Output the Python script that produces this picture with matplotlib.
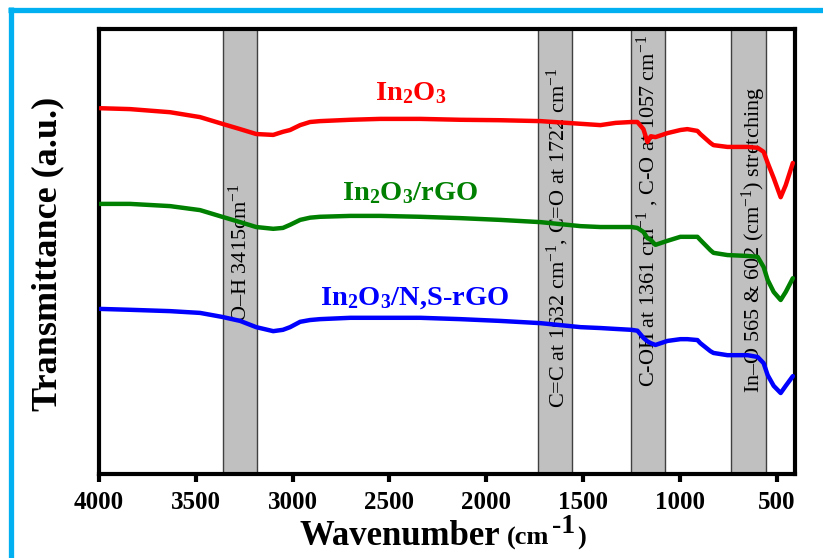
import matplotlib
matplotlib.use("Agg")
import matplotlib.pyplot as plt
from matplotlib.lines import Line2D

plt.rcParams['font.family'] = ['Liberation Serif', 'DejaVu Serif']
plt.rcParams['mathtext.fontset'] = 'custom'
plt.rcParams['mathtext.rm'] = 'Liberation Serif'
plt.rcParams['mathtext.bf'] = 'Liberation Serif:bold'
plt.rcParams['mathtext.it'] = 'Liberation Serif:italic'

# ---------------- data ----------------
wavenumber = [3995, 3840, 3633, 3478, 3364, 3271, 3188, 3100, 3050, 3013, 2961, 2910,
              2858, 2702, 2547, 2340, 2134, 1927, 1720, 1513, 1410, 1332, 1250, 1219,
              1188, 1167, 1150, 1126, 1064, 997, 961, 909, 894, 842, 826, 754, 650,
              598, 567, 546, 515, 479, 453, 416]
t_in2o3 = [82.2, 82.0, 81.3, 80.2, 78.7, 77.5, 76.4, 76.2, 76.9, 77.3, 78.4, 79.1,
           79.3, 79.6, 79.8, 79.8, 79.6, 79.5, 79.3, 78.7, 78.4, 78.9, 79.1, 79.1,
           77.5, 74.6, 75.9, 75.7, 76.6, 77.3, 77.5, 77.1, 76.4, 74.4, 73.9, 73.5,
           73.5, 73.3, 72.4, 69.9, 66.5, 62.2, 64.9, 69.9]
t_in2o3_rgo = [60.7, 60.7, 60.2, 59.3, 57.8, 56.6, 55.5, 55.1, 55.3, 56.0, 57.1, 57.6,
               57.8, 58.0, 58.0, 57.8, 57.5, 57.1, 56.6, 55.7, 55.5, 55.5, 55.5, 55.3,
               54.4, 53.0, 52.6, 51.5, 52.4, 53.3, 53.3, 53.3, 52.6, 50.3, 49.7, 49.2,
               49.0, 48.8, 46.5, 43.6, 40.9, 39.1, 40.9, 44.0]
t_in2o3_nsrgo = [37.1, 36.9, 36.6, 36.2, 35.3, 34.4, 33.0, 32.1, 32.4, 33.0, 34.2, 34.6,
                 34.8, 35.1, 35.1, 35.1, 34.8, 34.4, 33.9, 33.0, 32.8, 32.6, 32.4, 32.2,
                 30.6, 29.8, 29.4, 29.0, 29.9, 30.3, 30.3, 30.1, 29.4, 27.6, 27.2, 26.7,
                 26.7, 26.3, 24.9, 22.2, 19.8, 18.2, 19.8, 22.0]

series_names = [r"$\mathbf{In_2O_3}$", r"$\mathbf{In_2O_3/rGO}$",
                r"$\mathbf{In_2O_3/N{,}S\text{-}rGO}$"]
series_colors = ['#ff0000', '#008000', '#0000ff']

band_ranges = [(3360, 3185), (1730, 1555), (1250, 1075), (735, 553)]
band_labels = [r"O–H 3415cm$^{-1}$",
               r"C=C at 1632 cm$^{-1}$, C=O at 1722 cm$^{-1}$",
               r"C-OH at 1361 cm$^{-1}$ , C-O at 1057 cm$^{-1}$",
               r"In–O 565 & 602 (cm$^{-1}$) stretching"]

xticks = [4000, 3500, 3000, 2500, 2000, 1500, 1000, 500]

# ---------------- figure ----------------
W, H = 823, 558
fig = plt.figure(figsize=(W / 100, H / 100), dpi=100)
fig.patch.set_facecolor('white')

def fx(px):
    return px / W

def fy(py):
    return 1 - py / H

ax = fig.add_axes([fx(99), fy(474), fx(795) - fx(99), fy(29) - fy(474)])
ax.set_xlim(4000, 405)
ax.set_ylim(0, 100)

# bands
for (a, b) in band_ranges:
    ax.axvspan(b, a, facecolor='#c0c0c0', edgecolor='#404040', linewidth=1.0, zorder=1)

# curves
for vals, col in zip([t_in2o3, t_in2o3_rgo, t_in2o3_nsrgo], series_colors):
    ax.plot(wavenumber, vals, color=col, linewidth=3.2, solid_joinstyle='round',
            solid_capstyle='round', zorder=3)

# series labels (axes fraction positions)
label_pos = [(0.448, 0.856), (0.447, 0.632), (0.453, 0.396)]
for name, col, (lx, ly) in zip(series_names, series_colors, label_pos):
    ax.text(lx, ly, name, color=col, fontsize=20.5, ha='center', va='center',
            transform=ax.transAxes, zorder=4)

# band labels
band_text_pos = [(3272, 0.342), (1632, 0.148), (1167, 0.196), (619, 0.182)]
for lab, (bx, by) in zip(band_labels, band_text_pos):
    ax.text(bx, by, lab, rotation=90, ha='center', va='bottom', fontsize=16,
            color='black', transform=ax.get_xaxis_transform(), zorder=2)

# axes styling
for s in ax.spines.values():
    s.set_linewidth(3.0)
    s.set_color('black')
ax.set_yticks([])
ax.set_xticks(xticks)
ax.set_xticklabels([str(t) for t in xticks], fontsize=18, fontweight='bold')
ax.tick_params(axis='x', direction='out', length=6, width=3, pad=6)

# y label
fig.text(fx(48), fy(254), "Transmittance (a.u.)", rotation=90, ha='center', va='center',
         fontsize=26, fontweight='bold')

# x label pieces
fig.text(fx(300), fy(545), "Wavenumber", ha='left', va='baseline', fontsize=25, fontweight='bold')
fig.text(fx(507), fy(545), "(cm", ha='left', va='baseline', fontsize=19, fontweight='bold')
fig.text(fx(552), fy(533), "-1", ha='left', va='baseline', fontsize=20, fontweight='bold')
fig.text(fx(577), fy(545), ")", ha='left', va='baseline', fontsize=19, fontweight='bold')

# cyan frame (left and top)
cyan = '#00b0f0'
fig.add_artist(Line2D([fx(10.5), fx(10.5)], [fy(7), 0], transform=fig.transFigure,
                      color=cyan, linewidth=3.8, solid_capstyle='butt'))
fig.add_artist(Line2D([fx(8), 1], [fy(9.5), fy(9.5)], transform=fig.transFigure,
                      color=cyan, linewidth=3.8, solid_capstyle='butt'))

fig.savefig("out.png", dpi=100, facecolor='white')
